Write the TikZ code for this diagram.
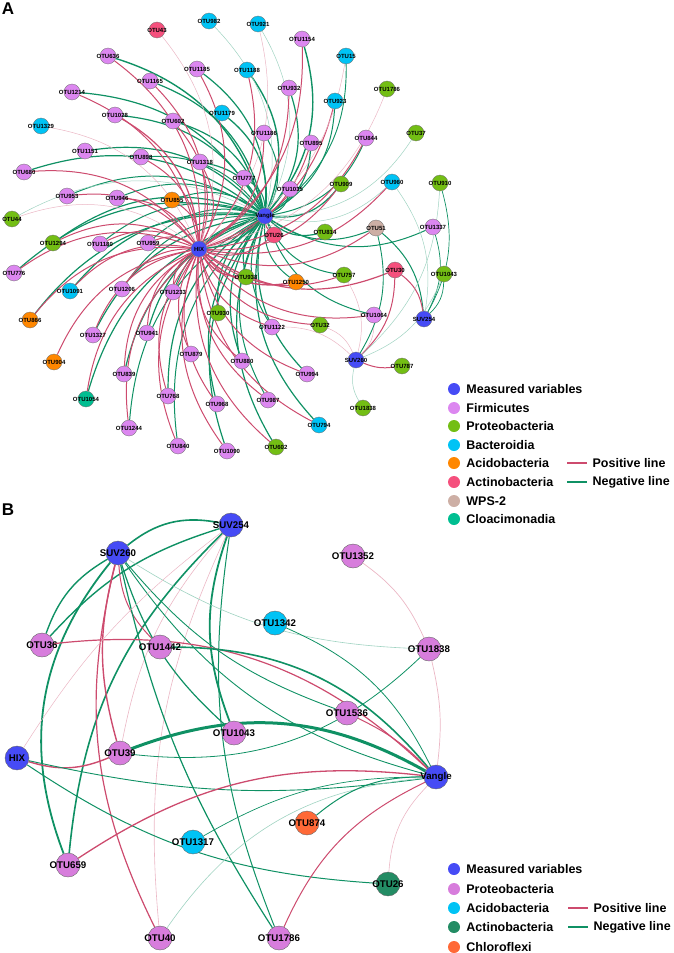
\documentclass[tikz,border=0pt]{standalone}
\usepackage{fontspec}
\setmainfont{Liberation Sans}
\usetikzlibrary{positioning}
\pgfdeclarelayer{edges}
\pgfsetlayers{edges,main}
\definecolor{measc}{RGB}{70,75,245}
\definecolor{firmc}{RGB}{220,135,240}
\definecolor{protAc}{RGB}{115,190,20}
\definecolor{bactc}{RGB}{0,195,245}
\definecolor{acidc}{RGB}{255,135,0}
\definecolor{actinc}{RGB}{245,80,125}
\definecolor{wpsc}{RGB}{205,175,165}
\definecolor{cloac}{RGB}{0,190,145}
\definecolor{protBc}{RGB}{215,125,220}
\definecolor{actBc}{RGB}{35,140,100}
\definecolor{chlorc}{RGB}{255,105,55}
\definecolor{posc}{RGB}{205,75,110}
\definecolor{negc}{RGB}{15,145,100}
\tikzset{
  otuA/.style={circle,draw=black!55,line width=0.35pt,minimum size=16pt,inner sep=0pt},
  lblA/.style={font=\bfseries\fontsize{6}{6}\selectfont,inner sep=0pt},
  otuB/.style={circle,draw=black!60,line width=0.4pt,minimum size=24pt,inner sep=0pt},
  lblB/.style={font=\bfseries\fontsize{9.7}{10}\selectfont,inner sep=0pt},
  pos/.style={draw=posc,line width=#1pt},
  neg/.style={draw=negc,line width=#1pt},
  posf/.style={draw=posc!40,line width=#1pt},
  negf/.style={draw=negc!40,line width=#1pt},
  keydot/.style={circle,minimum size=12pt,inner sep=0pt},
  keytxt/.style={anchor=west,font=\bfseries\fontsize{12.5}{14}\selectfont,inner sep=0pt},
  panel/.style={font=\bfseries\fontsize{17}{17}\selectfont,inner sep=0pt},
}
\begin{document}
\begin{tikzpicture}[x=1pt,y=-1pt]
\useasboundingbox (0,0) rectangle (673,953);
\node[panel] (labA) at (8,9) {A};
\node[panel] (labB) at (8,510) {B};

% panel A nodes
\foreach \n/\x/\y/\c in {43/157/30/actinc,982/209/21/bactc,921/258/24/bactc,1154/302/39/firmc,
  15/346/56/bactc,1786/387/89/protAc,37/416/133/protAc,636/108/56/firmc,1185/197/69/firmc,
  1165/150/81/firmc,1188/247/70/bactc,932/289/88/firmc,923/335/101/bactc,1214/72/92/firmc,
  1028/115/115/firmc,602/173/121/firmc,1179/222/113/bactc,1329/41/126/bactc,1186/264/133/firmc,
  895/311/143/firmc,844/366/138/firmc,1151/85/151/firmc,898/141/157/firmc,1318/200/162/firmc,
  1035/290/189/firmc,777/244/178/firmc,909/341/184/protAc,960/392/182/bactc,910/440/183/protAc,
  26/274/235/actinc,814/325/232/protAc,51/376/228/wpsc,1337/433/227/firmc,30/395/270/actinc,
  1043/444/274/protAc,757/344/275/protAc,938/246/277/protAc,1250/296/282/acidc,1064/374/315/firmc,
  32/320/325/protAc,1122/272/327/firmc,930/218/313/protAc,787/402/366/protAc,1838/363/408/protAc,
  880/242/361/firmc,994/307/374/firmc,987/268/400/firmc,794/319/425/bactc,1090/227/451/firmc,
  680/24/172/firmc,953/67/196/firmc,946/117/198/firmc,855/172/200/acidc,44/12/219/protAc,
  1294/53/243/protAc,1180/100/244/firmc,959/148/243/firmc,776/14/273/firmc,1091/70/291/bactc,
  1206/122/289/firmc,1233/173/292/firmc,866/30/320/acidc,1327/93/335/firmc,941/147/333/firmc,
  879/191/354/firmc,904/54/362/acidc,839/124/374/firmc,768/168/396/firmc,968/217/404/firmc,
  1054/86/399/cloac,1244/129/428/firmc,840/178/446/firmc}
  \node[otuA,fill=\c,label={[lblA]center:OTU\n}] (a\n) at (\x,\y) {};
\node[otuA,fill=protAc,label={[lblA]center:OTU602}] (a602b) at (276,447) {};
\node[otuA,fill=measc,label={[lblA]center:Vangle}] (aV) at (265,216) {};
\node[otuA,fill=measc,label={[lblA]center:HIX}] (aH) at (199,249) {};
\node[otuA,fill=measc,label={[lblA]center:SUV254}] (a254) at (424,319) {};
\node[otuA,fill=measc,label={[lblA]center:SUV260}] (a260) at (356,360) {};

% panel B nodes
\foreach \nm/\lb/\x/\y/\c in {b260/SUV260/118/553/measc,b254/SUV254/231/525/measc,
  b36/OTU36/42/645/protBc,b1442/OTU1442/160/647/protBc,b1352/OTU1352/353/556/protBc,
  b1342/OTU1342/275/623/bactc,b1838/OTU1838/429/649/protBc,b1536/OTU1536/347/713/protBc,
  b1043/OTU1043/234/733/protBc,bH/HIX/17/758/measc,b39/OTU39/120/753/protBc,
  b659/OTU659/68/865/protBc,b1317/OTU1317/193/842/bactc,b40/OTU40/160/938/protBc,
  bV/Vangle/436/777/measc,b874/OTU874/307/823/chlorc,b26/OTU26/388/884/actBc,
  b1786/OTU1786/279/938/protBc}
  \node[otuB,fill=\c,label={[lblB]center:\lb}] (\nm) at (\x,\y) {};

\begin{pgfonlayer}{edges}
% panel A edges
\foreach \n/\w in {636/1.4,1185/1.2,1165/1.2,1188/1.4,1154/1.4,932/1.2,923/1.0,15/0.9,1214/1.2,
  1028/1.2,602/1.2,1179/1.3,1186/1.0,895/1.2,844/1.0,1151/1.2,898/1.0,1318/1.2,1035/1.0,777/1.0,
  909/1.2,680/1.2,953/1.0,946/1.0,855/1.0,1294/1.2,1180/1.0,959/1.0,776/1.2,1091/1.2,1206/1.0,
  1233/1.0,866/1.2,930/1.2,1327/1.2,941/1.2,839/1.2,1054/1.2,1244/1.0,768/1.2,840/1.0,968/1.2,
  1090/1.2,880/1.2,994/1.2,987/1.0,794/1.2,602b/1.2,1122/1.0,938/1.2,814/1.2,757/1.0,1064/1.0,
  1337/1.0,51/1.0,1250/1.0}
  \draw[neg=\w] (aV) to[bend right=28] (a\n);
\foreach \n in {982,921,37,960,44}
  \draw[negf=0.5] (aV) to[bend right=28] (a\n);
\foreach \n/\w in {636/1.0,1185/1.0,1165/1.0,1214/1.0,1028/1.2,602/1.0,1188/1.0,1154/1.0,932/1.0,
  923/1.0,1186/1.0,895/1.0,844/1.0,898/1.0,1318/1.0,680/1.0,953/1.0,946/1.0,855/1.0,1294/1.0,
  1180/1.0,959/1.0,776/1.0,1091/1.0,1206/1.0,1233/1.0,866/1.0,904/1.0,1327/1.0,941/1.0,879/1.0,
  839/1.0,1054/1.0,1244/1.0,768/1.0,840/1.0,968/1.0,1090/1.0,880/1.0,994/1.0,987/1.0,794/1.0,
  602b/1.0,1122/1.0,938/1.4,1250/1.4,26/1.0,30/1.2,51/1.0,909/1.0,960/1.0,757/1.0,32/1.0,1064/1.0}
  \draw[pos=\w] (aH) to[bend right=28] (a\n);
\foreach \n in {43,1329,921,15,1786,44}
  \draw[posf=0.5] (aH) to[bend right=28] (a\n);
\draw[neg=1.2] (aH) to[bend right=20] (aV);
\draw[pos=1.0] (aV) to[bend right=20] (a26);
\foreach \n/\w in {910/0.7,1043/0.7,51/1.0,1337/0.7}
  \draw[neg=\w] (a254) to[bend right=22] (a\n);
\draw[negf=0.5] (a254) to[bend right=22] (a960);
\draw[pos=1.0] (a254) to[bend right=22] (a30);
\foreach \n in {32,1064,757,1122}
  \draw[posf=0.5] (a260) to[bend right=22] (a\n);
\draw[pos=1.0] (a260) to[bend right=22] (a30);
\draw[pos=1.0] (a260) to[bend right=15] (a787);
\foreach \n in {1838,910,1043}
  \draw[negf=0.5] (a260) to[bend right=22] (a\n);
\draw[neg=0.9] (a260) to[bend right=22] (a51);

% panel B edges
\draw[neg=1.6] (b260) to[bend left=25] (b254);
\draw[neg=1.4] (b36) to[bend left=20] (b260);
\draw[neg=1.4] (b36) to[bend left=15] (b254);
\draw[neg=1.8] (b659) to[bend left=30] (b260);
\draw[neg=1.6] (b659) to[bend left=20] (b254);
\draw[pos=1.0] (b260) to[bend right=20] (b1442);
\draw[pos=1.4] (b260) to[bend right=15] (b39);
\draw[pos=1.2] (b260) to[bend right=20] (b40);
\draw[posf=0.6] (b254) to[bend right=15] (b39);
\draw[posf=0.6] (b254) to[bend right=15] (b40);
\draw[neg=1.2] (b260) to[bend right=15] (b1043);
\draw[neg=1.8] (b254) to[bend right=20] (b1043);
\draw[neg=1.0] (b254) to[bend right=15] (b1786);
\draw[negf=0.6] (b260) to[bend right=15] (b1838);
\draw[neg=0.9] (b260) to[bend right=20] (bV);
\draw[neg=0.9] (b260) to[bend right=15] (b1536);
\draw[neg=1.2] (b260) to[bend right=10] (b1786);
\draw[pos=1.2] (b36) to[bend left=25] (bV);
\draw[neg=1.6] (b1442) to[bend left=25] (bV);
\draw[neg=0.8] (b1342) to[bend left=20] (bV);
\draw[posf=0.7] (b1352) to[bend left=15] (b1838);
\draw[posf=0.7] (b1838) to[bend left=10] (bV);
\draw[neg=0.8] (b1838) to[bend left=25] (b39);
\draw[pos=1.0] (b1536) to[bend left=10] (bV);
\draw[neg=3.0] (b39) to[bend left=25] (bV);
\draw[pos=1.4] (bH) to[bend right=20] (b39);
\draw[neg=0.9] (bH) to[bend right=10] (bV);
\draw[neg=1.0] (bH) to[bend right=15] (b26);
\draw[posf=0.5] (bH) to[bend left=10] (b254);
\draw[pos=1.3] (b659) to[bend left=20] (bV);
\draw[negf=0.6] (b40) to[bend left=25] (bV);
\draw[neg=0.7] (b1317) to[bend left=15] (bV);
\draw[neg=1.0] (b874) to[bend left=20] (bV);
\draw[posf=0.6] (b26) to[bend left=20] (bV);
\draw[pos=1.0] (b1786) to[bend left=20] (bV);
\end{pgfonlayer}

% legends
\foreach \y/\c/\t in {389/measc/Measured variables,408/firmc/Firmicutes,426/protAc/Proteobacteria,
  445/bactc/Bacteroidia,463/acidc/Acidobacteria,482/actinc/Actinobacteria,501/wpsc/WPS-2,
  519/cloac/Cloacimonadia}
  \node[keydot,fill=\c,label={[keytxt,xshift=6pt]right:\t}] at (454,\y) {};
\draw[pos=1.2] (567,463) -- (587,463) node[keytxt,right=5pt] {Positive line};
\draw[neg=1.2] (567,482) -- (587,482) node[keytxt,right=5pt] {Negative line};
\foreach \y/\c/\t in {869/measc/Measured variables,889/protBc/Proteobacteria,908/bactc/Acidobacteria,
  927/actBc/Actinobacteria,947/chlorc/Chloroflexi}
  \node[keydot,fill=\c,label={[keytxt,xshift=6pt]right:\t}] at (454,\y) {};
\draw[pos=1.2] (568,908) -- (588,908) node[keytxt,right=5pt] {Positive line};
\draw[neg=1.2] (568,927) -- (588,927) node[keytxt,right=5pt] {Negative line};
\end{tikzpicture}
\end{document}
